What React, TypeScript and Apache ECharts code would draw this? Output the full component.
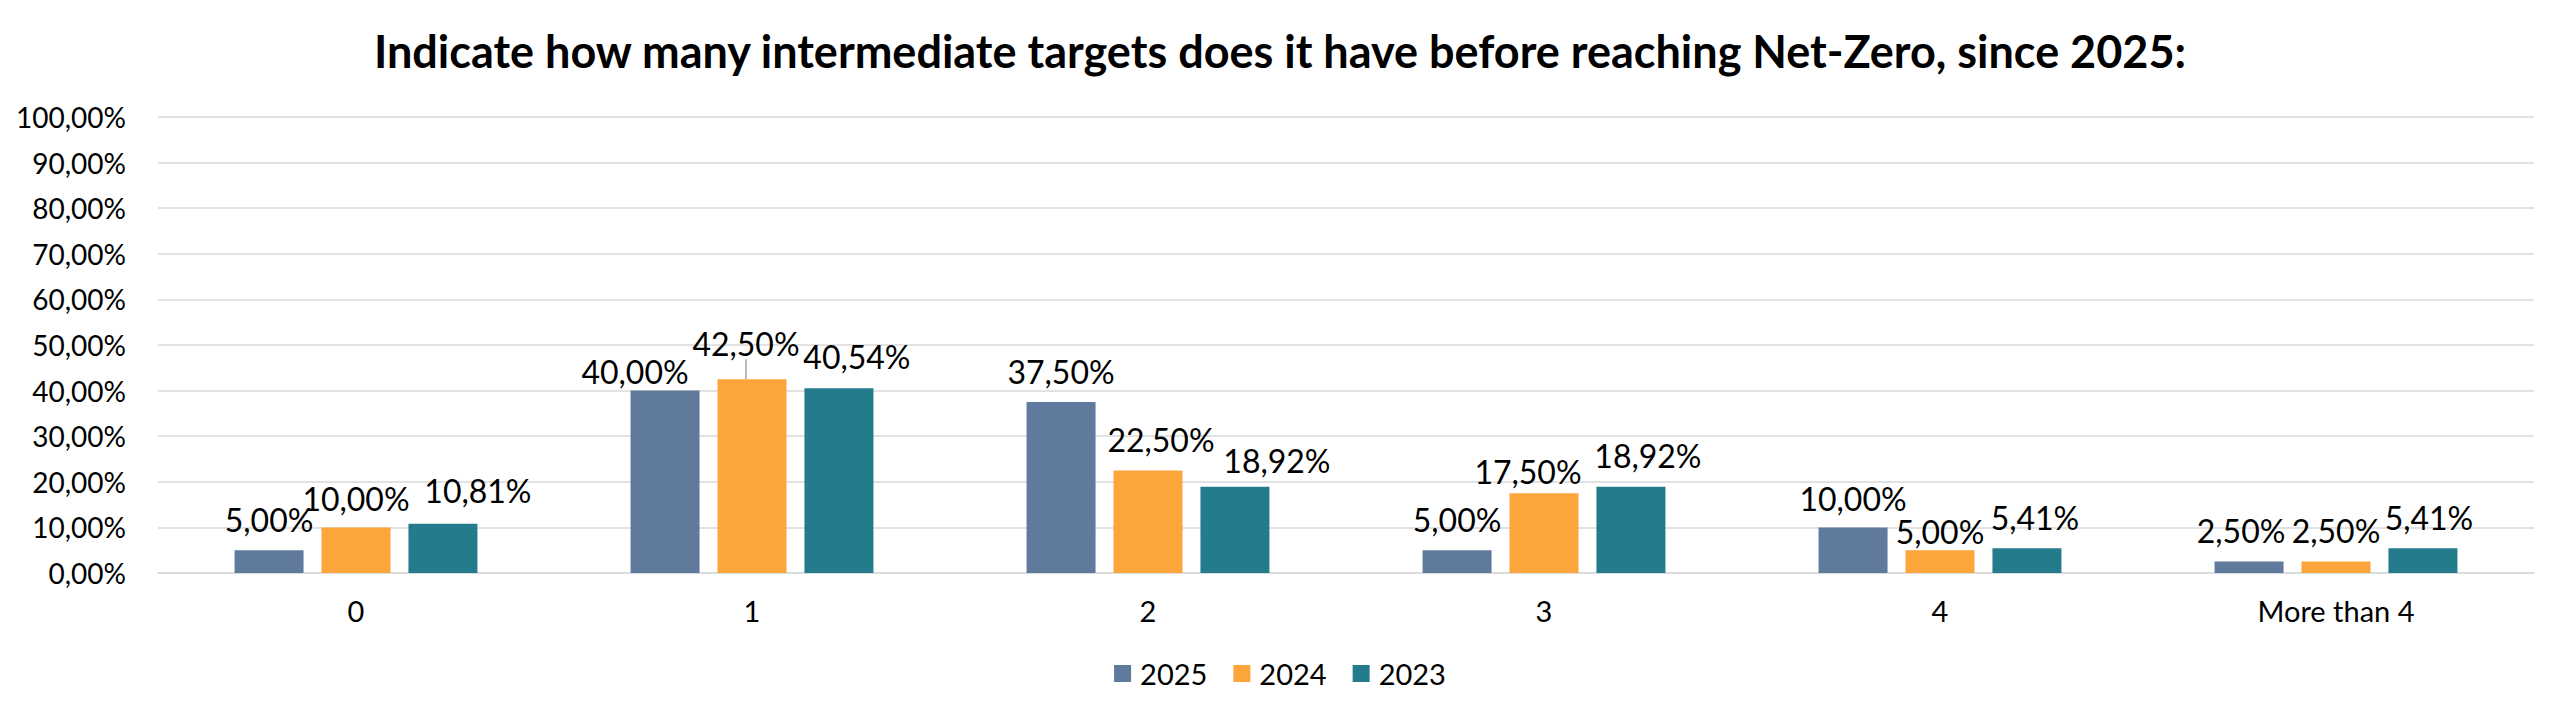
import React, { useEffect, useRef } from "react";
import * as echarts from "echarts";

const categories = ["0", "1", "2", "3", "4", "More than 4"];
const seriesNames = ["2025", "2024", "2023"];
const values2025 = [5.0, 40.0, 37.5, 5.0, 10.0, 2.5];
const values2024 = [10.0, 42.5, 22.5, 17.5, 5.0, 2.5];
const values2023 = [10.81, 40.54, 18.92, 18.92, 5.41, 5.41];
const yTicks = [0, 10, 20, 30, 40, 50, 60, 70, 80, 90, 100];
const titleText =
  "Indicate how many intermediate targets does it have before reaching Net-Zero, since 2025:";

const colors = ["#607a9d", "#fca53a", "#247b8c"];

// label nudges [dx, dy] per series, per category (as moved by hand in the original)
const labelNudges: number[][][] = [
  [[0, 0], [-30, 12], [0, 0], [0, 0], [0, 2], [-8, 0]],
  [[0, 2], [-6, -5], [13, 0], [-16, 9], [0, 12], [0, 0]],
  [[35, -2], [18, -1], [42, 5], [17, 0], [8, 0], [6, 0]],
];
// labels that have a leader line in the original: [seriesIndex, dataIndex]
const leaderLines = [[1, 1]];

const fmt = (v: number) => v.toFixed(2).replace(".", ",") + "%";

export default function App() {
  const ref = useRef<HTMLDivElement>(null);
  useEffect(() => {
    if (!ref.current) return;
    const chart = echarts.init(ref.current, null, { renderer: "svg" });
    const all = [values2025, values2024, values2023];
    const font = "Lato, 'Noto Sans', sans-serif";
    chart.setOption({
      animation: false,
      backgroundColor: "#ffffff",
      title: {
        text: titleText,
        left: "center",
        top: 23,
        textStyle: {
          fontFamily: font,
          fontWeight: "bold",
          fontSize: 45,
          color: "#000000",
        },
      },
      legend: {
        data: seriesNames,
        left: "center",
        top: 654,
        itemWidth: 17,
        itemHeight: 17,
        itemGap: 26,
        icon: "rect",
        textStyle: {
          fontFamily: font,
          fontSize: 29,
          color: "#000000",
          padding: [0, 0, 0, 4],
        },
      },
      grid: { left: 158, right: 26, top: 117, bottom: 147 },
      xAxis: {
        type: "category",
        data: categories,
        axisLine: { lineStyle: { color: "#d9d9d9", width: 1.5 } },
        axisTick: { show: false },
        axisLabel: {
          fontFamily: font,
          fontSize: 29,
          color: "#000000",
          margin: 23,
        },
      },
      yAxis: {
        type: "value",
        min: 0,
        max: 100,
        interval: 10,
        axisLine: { show: false },
        axisTick: { show: false },
        splitLine: { lineStyle: { color: "#d9d9d9", width: 1.5 } },
        axisLabel: {
          fontFamily: font,
          fontSize: 28,
          color: "#000000",
          margin: 32,
          formatter: (v: number) => (yTicks.includes(v) ? fmt(v) : ""),
        },
      },
      series: seriesNames.map((name, si) => ({
        name,
        type: "bar",
        barWidth: 69,
        barGap: "26%",
        itemStyle: { color: colors[si] },
        label: {
          show: true,
          position: "top",
          distance: 15,
          fontFamily: font,
          fontSize: 32,
          color: "#000000",
          formatter: (p: any) => fmt(p.value),
        },
        labelLine: { show: false },
        labelLayout: (p: any) => ({
          dx: labelNudges[si][p.dataIndex][0],
          dy: labelNudges[si][p.dataIndex][1],
        }),
        data: all[si].map((v, di) =>
          leaderLines.some(([s, d]) => s === si && d === di)
            ? {
                value: v,
                labelLine: {
                  show: true,
                  lineStyle: { color: "#a6a6a6", width: 1.5 },
                },
              }
            : v
        ),
      })),
    });
    return () => chart.dispose();
  }, []);
  return (
    <div
      ref={ref}
      style={{ position: "fixed", left: 0, top: 0, width: 2560, height: 720 }}
    />
  );
}
